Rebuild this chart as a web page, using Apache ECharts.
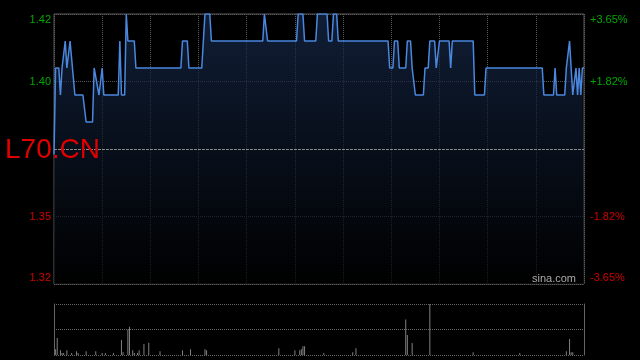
<!DOCTYPE html>
<html><head><meta charset="utf-8">
<script src="https://cdn.jsdelivr.net/npm/echarts@6/dist/echarts.min.js"></script>
<style>html,body{margin:0;padding:0;background:#000;}#c{width:640px;height:360px;}</style>
</head><body><div id="c"></div>
<script>
// previous close and price range
const prevClose = 1.37;
// intraday price vertices (minute index from open, price)
const minutes = [0,1,3,4,5,6,7,8,9,10,11,13,18,20,24,25,26,28,29,30,31,40,41,42,44,45,46,50,51,79,80,83,84,92,94,97,98,130,131,132,133,151,152,155,156,163,164,170,171,173,174,176,177,208,209,211,212,214,215,219,220,222,223,224,225,230,231,233,234,237,238,239,240,246,247,248,261,262,268,269,304,305,311,312,313,318,319,320,321,322,323,324,325,326,327,328,329,330];
const prices = [1.368,1.40,1.40,1.39,1.40,1.40,1.41,1.40,1.40,1.41,1.41,1.39,1.39,1.38,1.38,1.40,1.40,1.39,1.39,1.40,1.39,1.39,1.41,1.39,1.39,1.42,1.41,1.41,1.40,1.40,1.41,1.41,1.40,1.40,1.42,1.42,1.41,1.41,1.42,1.42,1.41,1.41,1.42,1.42,1.41,1.41,1.42,1.42,1.41,1.41,1.42,1.42,1.41,1.41,1.40,1.40,1.41,1.41,1.40,1.40,1.41,1.41,1.40,1.40,1.39,1.39,1.40,1.40,1.41,1.41,1.40,1.40,1.41,1.41,1.40,1.41,1.41,1.39,1.39,1.40,1.40,1.39,1.39,1.40,1.39,1.39,1.40,1.40,1.41,1.40,1.39,1.39,1.40,1.39,1.40,1.39,1.40,1.40];
// volume bars (minute index, volume in 10k shares)
const volMinutes = [1,2,4,5,6,8,11,14,15,20,26,30,32,37,42,43,46,47,49,50,52,53,56,59,66,80,85,94,95,140,150,153,154,155,156,168,186,188,219,220,223,234,261,290,319,321,322,323];
const volValues = [5.7,16.7,4.7,2,2,4.7,2,3.7,2,3.7,3.7,2,2,2,14.7,2.7,25,27.7,4.7,2,2,4.7,10.7,12,3.7,4.7,5.7,5.7,4.7,6.7,4.7,4.7,5.7,8.7,8.7,2,2.7,6.7,34.7,19.7,11.7,50,2.7,2,3.7,15.7,2.7,2.7];
// tick labels (bottom to top)
const priceTickLabels = ['1.32','1.35','','1.40','1.42'];
const pctTickLabels = ['-3.65%','-1.82%','','+1.82%','+3.65%'];
const tickStyles = ['rb','r','','g','gt'];

const FONT = "'Liberation Sans', Arial, sans-serif";
const GREEN = '#00a800', RED = '#d00000';
const rich = {
  g:{color:GREEN,fontSize:11,fontFamily:FONT},
  gt:{color:GREEN,fontSize:11,fontFamily:FONT,padding:[12,0,0,0]},
  r:{color:RED,fontSize:11,fontFamily:FONT},
  rb:{color:RED,fontSize:11,fontFamily:FONT,padding:[0,0,12,0]}
};
function idx(v){return Math.round((v+0.05)/0.025);}
function fmt(arr){return function(v){const i=idx(v);const t=arr[i];return t?('{'+tickStyles[i]+'|'+t+'}'):'';};}

const priceData = minutes.map((m,i)=>[m, +(prices[i]-prevClose).toFixed(4)]);
const volData = volMinutes.map((m,i)=>[m, volValues[i]]);

const chart = echarts.init(document.getElementById('c'), null, {renderer:'canvas'});
chart.setOption({
  animation:false,
  backgroundColor:'#000',
  title:[
    {text:'L70.CN', left:5, top:136, padding:0, textStyle:{color:'#e00000',fontSize:28,fontWeight:'normal',fontFamily:FONT}},
    {text:'sina.com', left:532, top:273, padding:0, textStyle:{color:'#aaaaaa',fontSize:11,fontWeight:'normal',fontFamily:FONT}}
  ],
  grid:[
    {left:54, top:14, width:530, height:270, show:true, borderColor:'#5a5a5a', borderWidth:1, backgroundColor:'transparent'},
    {left:54, top:304, width:530, height:51}
  ],
  xAxis:[
    {type:'value', gridIndex:0, min:0, max:330, interval:30, axisLine:{show:false}, axisTick:{show:false}, axisLabel:{show:false},
     splitLine:{show:true, lineStyle:{color:'#5a5a5a', type:[1,1], width:1}}},
    {type:'value', gridIndex:1, min:0, max:330, interval:30, axisLine:{show:false}, axisTick:{show:false}, axisLabel:{show:false}, splitLine:{show:false}}
  ],
  yAxis:[
    {type:'value', gridIndex:0, position:'left', min:-0.05, max:0.05, interval:0.025, axisLine:{show:false}, axisTick:{show:false},
     axisLabel:{margin:3, formatter:fmt(priceTickLabels), rich:rich},
     splitLine:{show:true, lineStyle:{color:'#5a5a5a', type:[1,1], width:1}}},
    {type:'value', gridIndex:0, position:'right', min:-0.05, max:0.05, interval:0.025, axisLine:{show:false}, axisTick:{show:false},
     axisLabel:{margin:6, formatter:fmt(pctTickLabels), rich:rich}, splitLine:{show:false}},
    {type:'value', gridIndex:1, position:'left', min:0, max:50, interval:25, axisLine:{show:true, lineStyle:{color:'#666'}}, axisTick:{show:false}, axisLabel:{show:false},
     splitLine:{show:true, lineStyle:{color:'#666', type:[1,1], width:1}}},
    {type:'value', gridIndex:1, position:'right', min:0, max:50, interval:25, axisLine:{show:true, lineStyle:{color:'#666'}}, axisTick:{show:false}, axisLabel:{show:false}, splitLine:{show:false}}
  ],
  series:[
    {type:'line', xAxisIndex:0, yAxisIndex:0, data:priceData, showSymbol:false, symbol:'none',
     lineStyle:{color:'#4a88e0', width:1.5},
     areaStyle:{origin:'start', color:new echarts.graphic.LinearGradient(0,0,0,1,[{offset:0,color:'#172a4c'},{offset:1,color:'#000000'}])},
     markLine:{silent:true, symbol:'none', label:{show:false}, lineStyle:{color:'#8a8a8a', type:[3,1], width:1}, data:[{yAxis:0}]},
     z:3},
    {type:'bar', xAxisIndex:1, yAxisIndex:2, data:volData, barWidth:1, itemStyle:{color:'#808080'}}
  ]
});
</script></body></html>
